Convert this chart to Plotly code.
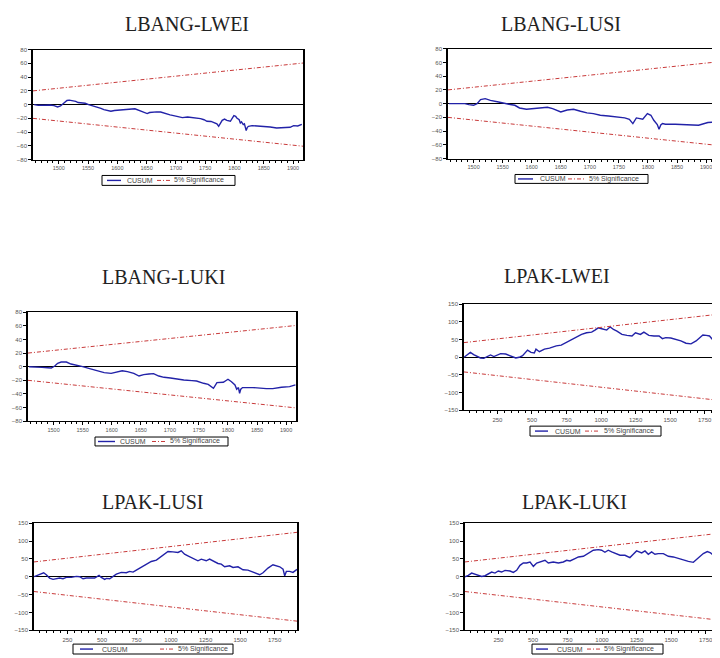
import plotly.graph_objects as go

# page body has an 8px default margin, so the figure is sized and shifted to fill the 720x658 view
OFF = 8
W, H = 720 - OFF, 658 - OFF

titles = ["LBANG-LWEI", "LBANG-LUSI", "LBANG-LUKI", "LPAK-LWEI", "LPAK-LUSI", "LPAK-LUKI"]

# ---------------- CUSUM series ----------------
bang_lwei_x = [1458, 1465, 1475, 1485, 1492, 1498, 1503, 1506, 1510, 1514, 1518, 1523, 1529, 1533, 1537,
               1545, 1551, 1558, 1566, 1572, 1577, 1583, 1589, 1595, 1603, 1610, 1617, 1625, 1630, 1637,
               1644, 1651, 1655, 1660, 1667, 1674, 1680, 1685, 1690, 1696, 1703, 1711, 1720, 1730, 1742,
               1748, 1753, 1760, 1764, 1770, 1773, 1776, 1779, 1783, 1787, 1793, 1796, 1799, 1802, 1804,
               1808, 1810, 1812, 1815, 1817, 1819, 1820, 1822, 1824, 1830, 1840, 1850, 1861, 1872, 1885,
               1895, 1901, 1908, 1915]
bang_lwei_y = [0, -1, -1, -0.5, -1.5, -3.4, -2, 0, 4, 6, 6.5, 5.8, 4.8, 3, 2.4,
               2, 0, -1.5, -3.4, -5.5, -7.3, -8, -9.7, -8.5, -8.2, -7.5, -7.3, -6.3, -6, -8.2,
               -10, -13, -11.5, -10.7, -10.5, -10.7, -12.5, -14.5, -15, -16, -17, -18.9, -18, -18.9, -20.4,
               -22, -24.2, -24.5, -25.7, -28, -31.5, -26, -22.8, -21, -23, -24.2, -20, -16, -17, -19.4,
               -22, -26.7, -25, -29.1, -28, -34, -37.8, -33, -31.5, -30.5, -31, -31.5, -32.5, -34, -33.5,
               -33, -30.5, -31, -28.6]

bang_lusi_x = [1458, 1464, 1475, 1485, 1492, 1500, 1506, 1512, 1520, 1529, 1543, 1554, 1563, 1571, 1579,
               1591, 1602, 1616, 1627, 1636, 1644, 1650, 1661, 1672, 1684, 1695, 1706, 1718, 1732, 1746,
               1760, 1768, 1774, 1780, 1791, 1799, 1805, 1810, 1816, 1819, 1822, 1825, 1830, 1847, 1862,
               1875, 1887, 1903, 1912, 1916]
bang_lusi_y = [0, 0, -0.5, 0, -1.4, -2.4, 0, 5.8, 7.2, 4.8, 2.4, 0, -1.2, -2.4, -6.3,
               -8.2, -7.2, -6.3, -5.3, -7.2, -9.7, -12.1, -9.2, -8.2, -11.1, -13.5, -14.5, -16.9, -17.9, -18.8,
               -20.8, -22.7, -29, -20.8, -22.7, -14.5, -16.9, -24.2, -30.4, -37.2, -31, -29, -30, -30, -30.5,
               -31.4, -31.4, -27.5, -27, -25.6]

bang_luki_x = [1458, 1470, 1480, 1490, 1496, 1502, 1507, 1513, 1522, 1530, 1539, 1550, 1562, 1570, 1579,
               1587, 1599, 1607, 1618, 1627, 1638, 1647, 1655, 1664, 1672, 1681, 1690, 1701, 1712, 1724,
               1738, 1746, 1758, 1766, 1775, 1781, 1792, 1800, 1806, 1812, 1815, 1818, 1820, 1822, 1825,
               1843, 1866, 1877, 1892, 1906, 1916]
bang_luki_y = [0, -1, -1, -1.5, -2, 1, 4.9, 6.8, 6.8, 3.9, 2.4, 0, -2.9, -4.9, -7.3,
               -8.8, -9.8, -8.3, -5.9, -7.3, -9.8, -13.7, -11.7, -10.7, -10.2, -13.7, -15.6, -16.6, -18.5, -19.5,
               -20.5, -21, -24.4, -25.9, -31.7, -23.4, -22.9, -18.5, -22, -26.8, -33.2, -30.7, -39, -33, -30.7,
               -30.7, -32.2, -32.2, -30.2, -29.3, -26.8]

pak_lwei_x = [8, 29, 54, 78, 102, 127, 151, 176, 200, 224, 249, 273, 310, 334, 359, 383, 407, 432, 468,
              493, 517, 529, 554, 590, 627, 676, 712, 749, 785, 822, 859, 895, 932, 956, 980, 1005, 1041,
              1066, 1090, 1115, 1151, 1188, 1224, 1249, 1285, 1310, 1346, 1383, 1420, 1444, 1468, 1505,
              1541, 1578, 1615, 1651, 1688, 1712, 1737, 1761, 1785, 1810, 1822, 1834, 1859, 1871, 1890, 1912]
pak_lwei_y = [0, 7.4, 13.9, 7.4, 1.9, -1.9, -2.8, 1.9, 6.5, 1.9, 6.5, 10.2, 9.3, 5.6, 1.9, -1.9, 0, 4.6, 20.4,
              13.9, 12, 23.1, 15.7, 23.1, 25.9, 32.4, 34.3, 41.7, 49.1, 58.3, 64.8, 69.5, 71.3, 76.9, 83.3, 80.6, 76.9,
              86.1, 78.7, 74.1, 64.8, 62, 60.2, 69.5, 64.8, 71.3, 62, 60.2, 60.2, 52.8, 55.6, 54.6,
              50.9, 46.3, 39.8, 38, 46.3, 55.6, 63, 62, 60.2, 49.1, 37, 44.4, 44.4, 43.5, 42, 44]

pak_lusi_x = [8, 37, 61, 78, 97, 121, 146, 170, 194, 218, 242, 278, 314, 339, 363, 387, 423, 447, 479,
              495, 520, 532, 556, 580, 604, 640, 676, 701, 725, 749, 785, 821, 857, 894, 930, 954, 978,
              1014, 1050, 1074, 1098, 1122, 1159, 1195, 1219, 1255, 1279, 1304, 1340, 1364, 1388, 1424,
              1449, 1485, 1521, 1557, 1593, 1617, 1642, 1666, 1702, 1738, 1762, 1787, 1811, 1823, 1835,
              1859, 1883, 1912]
pak_lusi_y = [0, 5.6, 9.3, 11.2, 5.6, -3.7, -7.4, -4.7, -3.7, -5.6, -1.9, -1.9, 0.9, 0, -5.6, -3.7, -2.8, -3.7, 3.7,
              -1.9, -7.4, -4.7, -5.6, 1.9, 7.4, 12.1, 11.2, 14.9, 13, 18.6, 26.1, 35.4, 42.8, 46.6, 55.9, 63.3, 70.8,
              69.8, 68, 72.6, 63.3, 58.7, 52.1, 44.7, 49.3, 44.7, 49.3, 44.7, 37.2, 35.4, 27.9, 30.7,
              26.1, 27.9, 19.6, 18.6, 14, 9.3, 5.6, 11.2, 24.2, 33.5, 30.7, 27.9, 21.4, 2.8, 14.9,
              14.9, 12.1, 20.5]

pak_luki_x = [8, 32, 56, 80, 105, 129, 153, 177, 201, 225, 249, 273, 298, 334, 358, 382, 406, 430, 454,
              479, 503, 527, 563, 587, 611, 647, 684, 720, 744, 768, 804, 829, 865, 901, 937, 973, 997,
              1021, 1045, 1070, 1094, 1130, 1166, 1202, 1226, 1250, 1287, 1311, 1335, 1359, 1383, 1407,
              1444, 1480, 1516, 1552, 1588, 1625, 1661, 1685, 1709, 1733, 1762, 1786, 1805, 1820, 1834,
              1854, 1878, 1912]
pak_luki_y = [0, 3.8, 10.3, 6.6, 3.8, 0.9, 2.8, 8.5, 13.2, 10.3, 16, 13.2, 17.9, 16, 12.2, 17.9, 32, 38.5, 38.5,
              41.4, 29.1, 38.5, 43.2, 46.1, 38.5, 41.4, 38.5, 41.4, 46.1, 44.2, 50.8, 55.5, 57.3, 64.9, 74.3, 76.1, 74.3,
              68.6, 74.3, 69.6, 66.7, 60.2, 60.2, 53.6, 63, 72.4, 66.7, 72.4, 63, 69.6, 63, 64.9,
              64.9, 57.3, 55.5, 50.8, 46.1, 43.2, 40.4, 47.9, 57.3, 64.9, 70.5, 66.7, 60.2, 46.1, 55.5,
              53.6, 55, 52]

# 5% significance bounds (straight lines, end points)
bang_bound_x = [1456, 1917]
bang_upper = [20, 60.5]
bang_lower = [-20, -60.5]
pak_bound_x = [8, 1912]
pak_upper = [41.5, 124.5]
pak_lower = [-41.5, -124.5]

# tick values
bang_xticks = [1500, 1550, 1600, 1650, 1700, 1750, 1800, 1850, 1900]
bang_yticks = [-80, -60, -40, -20, 0, 20, 40, 60, 80]
pak_xticks = [250, 500, 750, 1000, 1250, 1500, 1750]
pak_yticks = [-150, -100, -50, 0, 50, 100, 150]

series = [
    (bang_lwei_x, bang_lwei_y, "bang"),
    (bang_lusi_x, bang_lusi_y, "bang"),
    (bang_luki_x, bang_luki_y, "bang"),
    (pak_lwei_x, pak_lwei_y, "pak"),
    (pak_lusi_x, pak_lusi_y, "pak"),
    (pak_luki_x, pak_luki_y, "pak"),
]

# ---------------- layout geometry (screen pixels) ----------------
boxes = [(33, 303, 47, 158), (448, 716, 46, 157), (28, 296, 312, 422),
         (464, 720, 304, 411), (34, 297, 525, 633), (465, 720, 525, 633)]
xranges = [[1456, 1917], [1456, 1917], [1456, 1917], [8, 1861], [8, 1912], [8, 1854]]
title_pos = [(187, 21), (561, 21), (163, 276), (557, 275), (153, 504), (574, 504)]
# legend: box x0,x1,y0,y1, blue x0,x1, cusum text x, red x0,x1, sig text x
legends = [
    (102, 235, 174, 184, 107, 121, 125, 157, 171, 172),
    (515, 648, 173, 182, 518, 533, 538, 568, 585, 587),
    (95, 228, 438, 447, 98, 115, 118, 152, 167, 168),
    (530, 661, 427, 437, 535, 548, 553, 585, 600, 602),
    (73, 233, 647, 657, 80, 93, 100, 160, 174, 176),
    (532, 663, 647, 657, 536, 548, 555, 587, 600, 602),
]

BLUE = "#2222a8"
RED = "#c83a3a"

def px(x):
    return (x - OFF) / W

def py(y):
    return 1 - (y - OFF) / H

fig = go.Figure()
shapes = []
annotations = []

for i, (sx, sy, kind) in enumerate(series):
    n = i + 1
    xa = "x" if n == 1 else f"x{n}"
    ya = "y" if n == 1 else f"y{n}"
    bx = bang_bound_x if kind == "bang" else pak_bound_x
    bu = bang_upper if kind == "bang" else pak_upper
    bl = bang_lower if kind == "bang" else pak_lower
    fig.add_trace(go.Scatter(x=sx, y=sy, mode="lines", name="CUSUM", xaxis=xa, yaxis=ya,
                             line=dict(color=BLUE, width=1.4), showlegend=False))
    fig.add_trace(go.Scatter(x=bx, y=bu, mode="lines", name="5% Significance", xaxis=xa, yaxis=ya,
                             line=dict(color=RED, width=1, dash="4px,2px,1px,2px"), showlegend=False))
    fig.add_trace(go.Scatter(x=bx, y=bl, mode="lines", name="5% Significance", xaxis=xa, yaxis=ya,
                             line=dict(color=RED, width=1, dash="4px,2px,1px,2px"), showlegend=False))

    x0, x1, yt, yb = boxes[i]
    cut = x1 >= 720
    xkey = "xaxis" if n == 1 else f"xaxis{n}"
    ykey = "yaxis" if n == 1 else f"yaxis{n}"
    fig.layout[xkey] = dict(
        domain=[px(x0), min(px(x1), 1.0)], anchor=ya, range=xranges[i],
        tickmode="array", tickvals=bang_xticks if kind == "bang" else pak_xticks,
        ticks="outside", ticklen=3, tickwidth=1, tickcolor="black",
        minor=dict(ticks="outside", ticklen=2, dtick=10 if kind == "bang" else 50, tickcolor="black"),
        showline=True, linecolor="black", linewidth=1.3, mirror=True,
        showgrid=False, zeroline=False,
        tickfont=dict(family="Liberation Sans", size=5.5 if kind == "bang" else 6, color="#555"),
    )
    fig.layout[ykey] = dict(
        domain=[py(yb), py(yt)], anchor=xa,
        range=[-80, 80] if kind == "bang" else [-150, 150],
        tickmode="array", tickvals=bang_yticks if kind == "bang" else pak_yticks,
        ticks="outside", ticklen=3, tickwidth=1, tickcolor="black",
        showline=True, linecolor="black", linewidth=1.5, mirror=not cut,
        showgrid=False, zeroline=True, zerolinecolor="black", zerolinewidth=1.3,
        tickfont=dict(family="Liberation Sans", size=6, color="#555"),
    )

    tx, ty = title_pos[i]
    annotations.append(dict(text=titles[i], x=px(tx), y=py(ty), xref="paper", yref="paper",
                            xanchor="center", yanchor="middle", showarrow=False,
                            font=dict(family="Liberation Serif", size=20, color="#222")))

    lb = legends[i]
    ymid = (lb[2] + lb[3]) / 2
    shapes.append(dict(type="rect", xref="paper", yref="paper", x0=px(lb[0]), x1=px(lb[1]),
                       y0=py(lb[3]), y1=py(lb[2]), line=dict(color="black", width=1)))
    shapes.append(dict(type="line", xref="paper", yref="paper", x0=px(lb[4]), x1=px(lb[5]),
                       y0=py(ymid), y1=py(ymid), line=dict(color=BLUE, width=1.4)))
    shapes.append(dict(type="line", xref="paper", yref="paper", x0=px(lb[7]), x1=px(lb[8]),
                       y0=py(ymid), y1=py(ymid), line=dict(color=RED, width=1, dash="4px,2px,1px,2px")))
    annotations.append(dict(text="CUSUM", x=px(lb[6]), y=py(ymid), xref="paper", yref="paper",
                            xanchor="left", yanchor="middle", showarrow=False,
                            font=dict(family="Liberation Sans", size=7, color="#444")))
    annotations.append(dict(text="5% Significance", x=px(lb[9]), y=py(ymid), xref="paper", yref="paper",
                            xanchor="left", yanchor="middle", showarrow=False,
                            font=dict(family="Liberation Sans", size=7, color="#444")))

fig.update_layout(
    width=W, height=H, margin=dict(l=0, r=0, t=0, b=0),
    paper_bgcolor="white", plot_bgcolor="white",
    showlegend=False, shapes=shapes, annotations=annotations,
)

fig.write_html("out.html")
